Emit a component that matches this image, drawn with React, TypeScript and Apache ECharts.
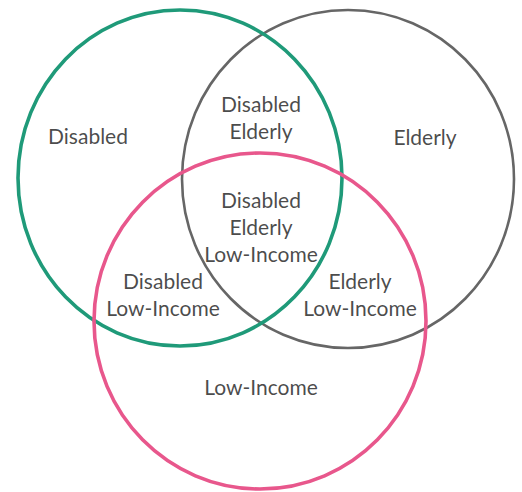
import React, { useEffect, useRef } from "react";
import * as echarts from "echarts";

// Sets of the Venn diagram: name, centre (x, y) and radii (rx, ry) in diagram units
const setNames = ["Elderly", "Disabled", "Low-Income"];
const setCentres = [
  [348, 179],
  [180, 178],
  [260, 321],
];
const setRadii = [
  [166, 169],
  [162, 168],
  [166, 168],
];
const setColors = ["#666666", "#1f9a79", "#e8578c"];
const setLineWidths = [2.6, 3.6, 3.6];

// Region labels and their anchor points in diagram units
const regionLabels = [
  "Disabled",
  "Disabled\nElderly",
  "Elderly",
  "Disabled\nElderly\nLow-Income",
  "Disabled\nLow-Income",
  "Elderly\nLow-Income",
  "Low-Income",
];
const regionPoints = [
  [88, 135],
  [261, 117],
  [425, 136],
  [261, 226],
  [163, 294],
  [360, 294],
  [261, 386],
];

export default function App() {
  const ref = useRef<HTMLDivElement>(null);
  useEffect(() => {
    document.body.style.margin = "0";
    const chart = echarts.init(ref.current!, undefined, { renderer: "svg" });
    chart.setOption({
      animation: false,
      backgroundColor: "#ffffff",
      grid: { left: 0, right: 0, top: 0, bottom: 0 },
      xAxis: { type: "value", min: 0, max: 522, show: false },
      yAxis: { type: "value", min: 0, max: 492, inverse: true, show: false },
      series: [
        {
          type: "custom",
          coordinateSystem: "cartesian2d",
          data: setNames.map((n, i) => ({
            name: n,
            value: [setCentres[i][0], setCentres[i][1], setRadii[i][0], setRadii[i][1], i],
          })),
          renderItem: (params: any, api: any) => {
            const c = api.coord([api.value(0), api.value(1)]);
            const s = api.size([api.value(2), api.value(3)]);
            const i = api.value(4);
            return {
              type: "ellipse",
              shape: { cx: c[0], cy: c[1], rx: s[0], ry: s[1] },
              style: { fill: "none", stroke: setColors[i], lineWidth: setLineWidths[i] },
            };
          },
          silent: true,
        },
        {
          type: "scatter",
          symbolSize: 0,
          silent: true,
          data: regionLabels.map((t, i) => ({ name: t, value: regionPoints[i] })),
          label: {
            show: true,
            position: "inside",
            formatter: (p: any) => p.name,
            fontFamily: "Lato, 'Open Sans', sans-serif",
            fontSize: 21,
            lineHeight: 27,
            color: "#1a1a1a",
            align: "center",
            verticalAlign: "middle",
          },
        },
      ],
    });
    return () => chart.dispose();
  }, []);
  return <div ref={ref} style={{ width: 522, height: 492 }} />;
}
